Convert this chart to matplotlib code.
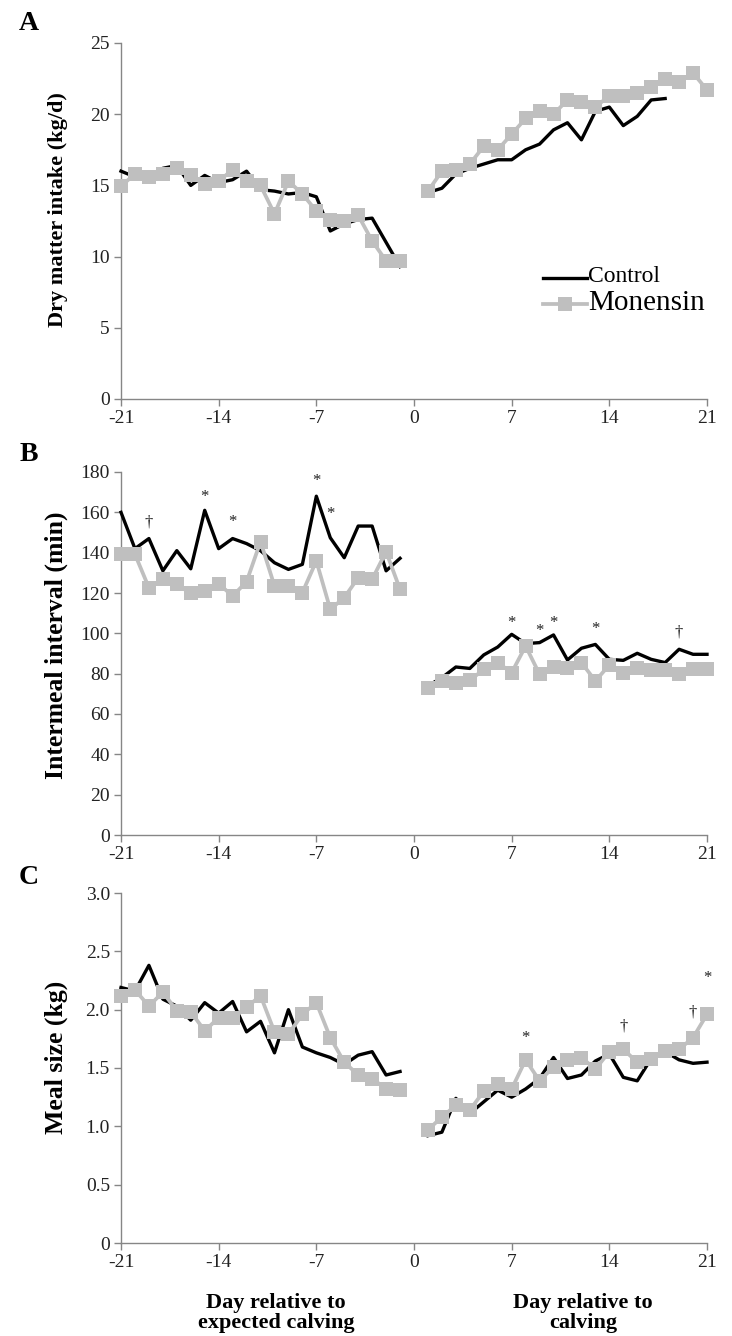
import matplotlib
matplotlib.use("Agg")
import matplotlib.pyplot as plt
from matplotlib.lines import Line2D

plt.rcParams['font.family'] = ['Liberation Serif', 'DejaVu Serif']

# ---------------- data ----------------
days_pre = list(range(-21, 0))
days_post = list(range(1, 22))

# Panel A: dry matter intake (kg/d)
dmi_ctrl_pre = [16.0, 15.6, 15.7, 16.2, 16.4, 15.0, 15.7, 15.2, 15.4, 16.0, 14.7,
                14.6, 14.4, 14.5, 14.2, 11.8, 12.3, 12.6, 12.7, 11.0, 9.3]
dmi_mon_pre = [14.95, 15.8, 15.6, 15.8, 16.2, 15.7, 15.1, 15.3, 16.1, 15.3, 15.0,
               13.0, 15.3, 14.4, 13.2, 12.6, 12.5, 12.9, 11.1, 9.7, 9.7]
dmi_ctrl_post_days = list(range(1, 19))
dmi_ctrl_post = [14.5, 14.8, 15.8, 16.2, 16.5, 16.8, 16.8, 17.5, 17.9, 18.9, 19.4,
                 18.2, 20.2, 20.5, 19.2, 19.85, 21.0, 21.1]
dmi_mon_post = [14.6, 16.0, 16.1, 16.5, 17.75, 17.5, 18.6, 19.7, 20.2, 20.0, 21.0,
                20.85, 20.5, 21.3, 21.25, 21.5, 21.9, 22.5, 22.25, 22.9, 21.7]

# Panel B: intermeal interval (min)
imi_ctrl_pre = [160, 142, 147, 131, 141, 132, 161, 142, 147, 144.5, 141,
                135, 131.7, 134.2, 168, 147.4, 137.5, 153.2, 153.2, 131, 137.2]
imi_mon_pre = [139.2, 139.2, 122.6, 126.8, 124.3, 119.8, 121, 124.6, 118.5, 125.6, 145.5,
               123.5, 123.5, 120.2, 135.9, 111.9, 117.7, 127.6, 126.8, 140.5, 121.8]
imi_ctrl_post = [74, 78, 83.3, 82.6, 89.3, 93.2, 99.5, 94.9, 95.4, 99.2, 86.8,
                 92.6, 94.5, 87.1, 86.6, 90.1, 87.1, 85.5, 92.1, 89.6, 89.6]
imi_mon_post = [73.1, 76.4, 75.5, 76.7, 82.1, 85.5, 80.5, 93.7, 79.7, 83.5, 83,
                85.5, 76.4, 84.3, 80.5, 82.6, 81.6, 81.8, 79.7, 82.1, 82.1]

# Panel C: meal size (kg)
ms_ctrl_pre = [2.19, 2.16, 2.38, 2.09, 2.03, 1.91, 2.06, 1.97, 2.07, 1.81, 1.90,
               1.63, 2.00, 1.68, 1.63, 1.59, 1.53, 1.61, 1.64, 1.44, 1.47]
ms_mon_pre = [2.12, 2.17, 2.03, 2.15, 1.99, 1.98, 1.82, 1.93, 1.93, 2.02, 2.12,
              1.81, 1.79, 1.96, 2.06, 1.76, 1.55, 1.44, 1.41, 1.32, 1.31]
ms_ctrl_post = [0.92, 0.95, 1.24, 1.11, 1.21, 1.31, 1.25, 1.32, 1.41, 1.59, 1.41,
                1.44, 1.56, 1.62, 1.42, 1.39, 1.58, 1.64, 1.57, 1.54, 1.55]
ms_mon_post = [0.97, 1.08, 1.18, 1.14, 1.30, 1.36, 1.32, 1.57, 1.39, 1.51, 1.57,
               1.59, 1.49, 1.64, 1.66, 1.55, 1.58, 1.65, 1.66, 1.76, 1.96]

# significance marks: (day, y, symbol)
marks_B = [(-19, 154.9, '†'), (-15, 167.6, '*'), (-13, 155.2, '*'), (-7, 175.5, '*'),
           (-6, 159.3, '*'), (7, 105, '*'), (9, 101.2, '*'), (10, 105, '*'),
           (13, 102, '*'), (19, 100.3, '†')]
marks_C = [(8, 1.76, '*'), (15, 1.86, '†'), (20, 1.98, '†'), (21, 2.27, '*')]

xticks = [-21, -14, -7, 0, 7, 14, 21]
legend_labels = ['Control', 'Monensin']

# ---------------- styling ----------------
BLACK = '#000000'
GRAY = '#BFBFBF'
AXC = '#868686'
LW = 2.4

W, H = 732, 1336
fig = plt.figure(figsize=(W / 100, H / 100), dpi=100)

def fx(px):
    return px / W

def fy(py):
    return 1 - py / H

left, right = 121, 707
panels = [
    (43, 399),
    (472, 835),
    (893, 1243),
]

axes = []
for top, bot in panels:
    ax = fig.add_axes([fx(left), fy(bot), fx(right - left), (bot - top) / H])
    axes.append(ax)

def style(ax, ylim, yticks, yticklabels):
    ax.set_xlim(-21, 21)
    ax.set_ylim(*ylim)
    ax.set_xticks(xticks)
    ax.set_xticklabels([str(t) for t in xticks])
    ax.set_yticks(yticks)
    ax.set_yticklabels(yticklabels)
    for s in ['top', 'right']:
        ax.spines[s].set_visible(False)
    for s in ['left', 'bottom']:
        ax.spines[s].set_color(AXC)
        ax.spines[s].set_linewidth(1.0)
    ax.tick_params(axis='both', colors=AXC, labelcolor='#222222', labelsize=14,
                   length=5, width=1.0, direction='out')
    ax.tick_params(axis='y', pad=3)
    ax.tick_params(axis='x', pad=3)

def draw(ax, cpre, mpre, cpost_d, cpost, mpost):
    ax.plot(days_pre, cpre, color=BLACK, lw=LW, zorder=3, clip_on=False)
    ax.plot(cpost_d, cpost, color=BLACK, lw=LW, zorder=3, clip_on=False)
    kw = dict(color=GRAY, lw=LW + 0.3, marker='s', markersize=10.5, markeredgewidth=0,
              zorder=4, clip_on=False)
    ax.plot(days_pre, mpre, **kw)
    ax.plot(days_post, mpost, **kw)

def set_ylabel(ax, text, size, top, bot, center_y):
    ax.set_ylabel(text, fontsize=size, fontweight='bold')
    ax.yaxis.set_label_coords((68 - left) / (right - left), (bot - center_y) / (bot - top))

# Panel A
axA = axes[0]
draw(axA, dmi_ctrl_pre, dmi_mon_pre, dmi_ctrl_post_days, dmi_ctrl_post, dmi_mon_post)
style(axA, (0, 25), [0, 5, 10, 15, 20, 25], ['0', '5', '10', '15', '20', '25'])
set_ylabel(axA, 'Dry matter intake (kg/d)', 16, 43, 399, 210)

# legend drawn in figure pixel positions
fig.add_artist(Line2D([fx(543), fx(587)], [fy(278), fy(278)], color=BLACK, lw=LW,
                      transform=fig.transFigure))
fig.add_artist(Line2D([fx(543), fx(587)], [fy(304), fy(304)], color=GRAY, lw=LW + 0.3,
                      transform=fig.transFigure))
fig.add_artist(Line2D([fx(565)], [fy(304)], color=GRAY, marker='s', markersize=10.5,
                      markeredgewidth=0, transform=fig.transFigure))
fig.text(fx(588), fy(277), legend_labels[0], ha='left', va='center', fontsize=17)
fig.text(fx(588), fy(303), legend_labels[1], ha='left', va='center', fontsize=21)

# Panel B
axB = axes[1]
draw(axB, imi_ctrl_pre, imi_mon_pre, days_post, imi_ctrl_post, imi_mon_post)
style(axB, (0, 180), list(range(0, 181, 20)), [str(v) for v in range(0, 181, 20)])
set_ylabel(axB, 'Intermeal interval (min)', 18.5, 472, 835, 645)
for d, y, s in marks_B:
    axB.text(d, y, s, ha='center', va='center', fontsize=12, color='#222222', zorder=5)

# Panel C
axC = axes[2]
draw(axC, ms_ctrl_pre, ms_mon_pre, days_post, ms_ctrl_post, ms_mon_post)
style(axC, (0, 3.0), [0, 0.5, 1.0, 1.5, 2.0, 2.5, 3.0],
      ['0', '0.5', '1.0', '1.5', '2.0', '2.5', '3.0'])
set_ylabel(axC, 'Meal size (kg)', 18.5, 893, 1243, 1057)
for d, y, s in marks_C:
    axC.text(d, y, s, ha='center', va='center', fontsize=12, color='#222222', zorder=5)

# x-axis group labels
fig.text(fx(276), fy(1313), 'Day relative to\nexpected calving', ha='center', va='center',
         fontsize=16, fontweight='bold', linespacing=1.0)
fig.text(fx(583), fy(1313), 'Day relative to\ncalving', ha='center', va='center',
         fontsize=16, fontweight='bold', linespacing=1.0)

# panel letters
for lab, py in [('A', 24), ('B', 455), ('C', 877)]:
    fig.text(fx(29), fy(py), lab, ha='center', va='center', fontsize=20, fontweight='bold')

fig.savefig('out.png', dpi=100)
